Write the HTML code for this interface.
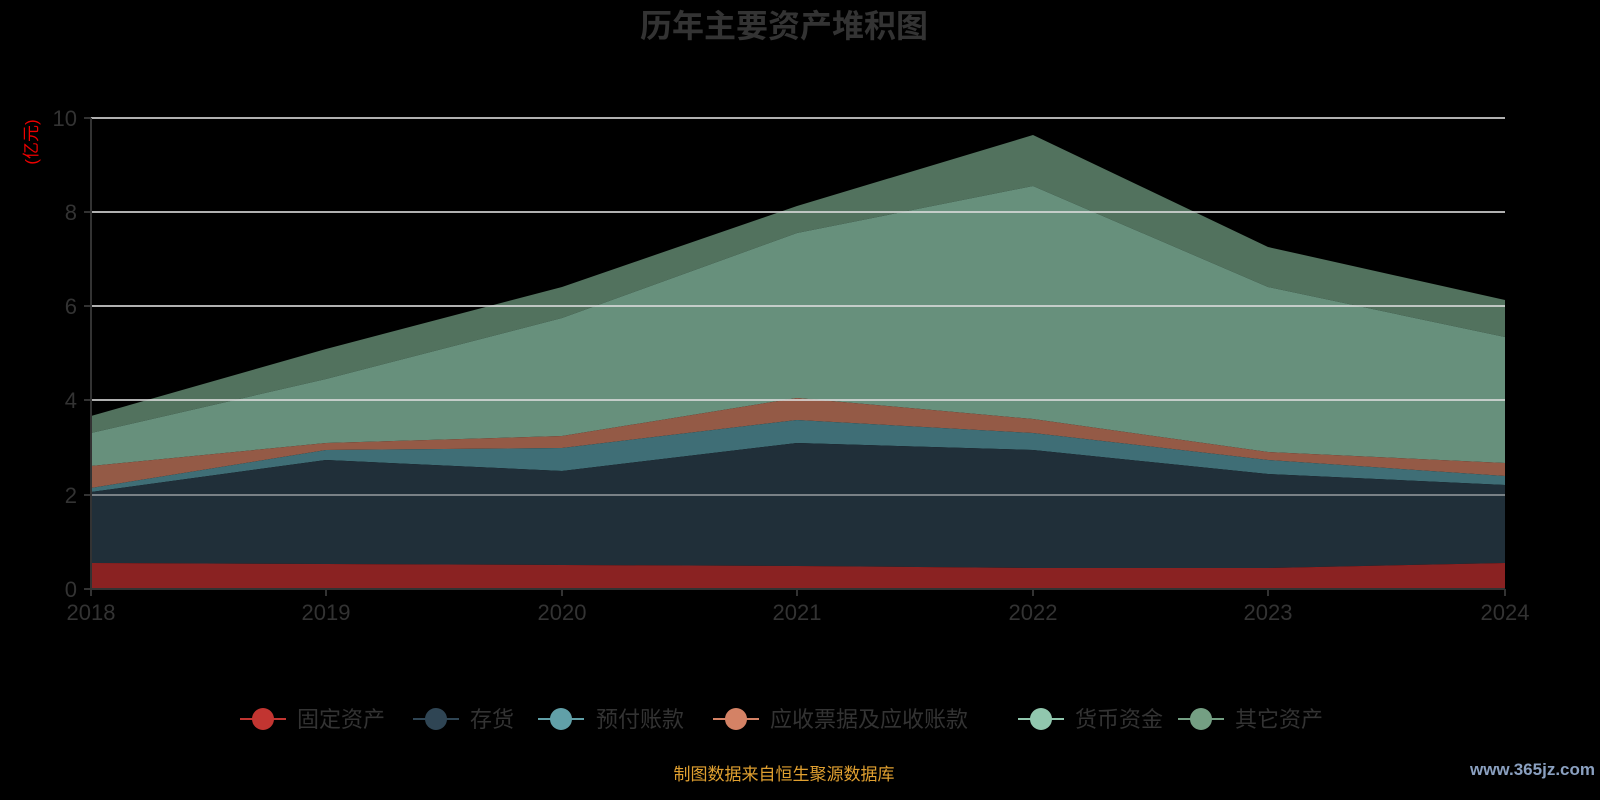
<!DOCTYPE html>
<html><head><meta charset="utf-8"><style>
body{margin:0;background:#000;}
svg{display:block;font-family:"Liberation Sans","Noto Sans CJK SC",sans-serif;}
</style></head><body>
<svg width="1600" height="800" viewBox="0 0 1600 800">
<rect width="1600" height="800" fill="#000"/>
<text x="784" y="37" text-anchor="middle" font-size="32" font-weight="bold" fill="#333">历年主要资产堆积图</text>
<text transform="translate(37,142) rotate(-90)" text-anchor="middle" font-size="17" fill="#e00">(亿元)</text>
<polygon fill="#52725e" points="91,416 326,349 562,287 797,206 1033,135 1268,247 1505,300 1505,337 1268,287 1033,186 797,233 562,318 326,379 91,433"/>
<polygon fill="#67907c" points="91,433 326,379 562,318 797,233 1033,186 1268,287 1505,337 1505,463 1268,452 1033,419 797,398 562,436 326,443 91,466"/>
<polygon fill="#945a46" points="91,466 326,443 562,436 797,398 1033,419 1268,452 1505,463 1505,476 1268,460 1033,433 797,420 562,448 326,450 91,488"/>
<polygon fill="#3f6e76" points="91,488 326,450 562,448 797,420 1033,433 1268,460 1505,476 1505,485 1268,474 1033,450 797,443 562,471 326,460 91,492"/>
<polygon fill="#202f39" points="91,492 326,460 562,471 797,443 1033,450 1268,474 1505,485 1505,563 1268,568 1033,568 797,566 562,565 326,564 91,563"/>
<polygon fill="#8a2222" points="91,563 326,564 562,565 797,566 1033,568 1268,568 1505,563 1505,589 91,589"/>
<g stroke="#ddd" stroke-width="2" opacity="0.8">
<line x1="91" y1="118" x2="1505" y2="118"/><line x1="91" y1="212" x2="1505" y2="212"/>
<line x1="91" y1="306" x2="1505" y2="306"/><line x1="91" y1="400" x2="1505" y2="400"/>
<line x1="91" y1="495" x2="1505" y2="495" opacity="0.6"/>
</g>
<g stroke="#333" stroke-width="2">
<line x1="91" y1="118" x2="91" y2="589"/><line x1="84" y1="589" x2="1505" y2="589"/>
<line x1="84" y1="118" x2="91" y2="118"/><line x1="84" y1="212" x2="91" y2="212"/><line x1="84" y1="306" x2="91" y2="306"/><line x1="84" y1="400" x2="91" y2="400"/><line x1="84" y1="495" x2="91" y2="495"/>
<line x1="91" y1="589" x2="91" y2="596"/><line x1="326" y1="589" x2="326" y2="596"/><line x1="562" y1="589" x2="562" y2="596"/><line x1="797" y1="589" x2="797" y2="596"/><line x1="1033" y1="589" x2="1033" y2="596"/><line x1="1268" y1="589" x2="1268" y2="596"/><line x1="1505" y1="589" x2="1505" y2="596"/>
</g>
<g font-size="22" fill="#333" text-anchor="end">
<text x="77" y="126">10</text><text x="77" y="220">8</text><text x="77" y="314">6</text><text x="77" y="408">4</text><text x="77" y="503">2</text><text x="77" y="597">0</text>
</g>
<g font-size="22" fill="#333" text-anchor="middle">
<text x="91" y="620">2018</text><text x="326" y="620">2019</text><text x="562" y="620">2020</text><text x="797" y="620">2021</text><text x="1033" y="620">2022</text><text x="1268" y="620">2023</text><text x="1505" y="620">2024</text>
</g>
<g font-size="22" fill="#333">
<line x1="240" y1="719" x2="286" y2="719" stroke="#c23531" stroke-width="2"/><circle cx="263" cy="719" r="11" fill="#c23531"/><text x="297" y="727">固定资产</text>
<line x1="413" y1="719" x2="459" y2="719" stroke="#2f4554" stroke-width="2"/><circle cx="436" cy="719" r="11" fill="#2f4554"/><text x="470" y="727">存货</text>
<line x1="538" y1="719" x2="584" y2="719" stroke="#61a0a8" stroke-width="2"/><circle cx="561" cy="719" r="11" fill="#61a0a8"/><text x="596" y="727">预付账款</text>
<line x1="713" y1="719" x2="759" y2="719" stroke="#d48265" stroke-width="2"/><circle cx="736" cy="719" r="11" fill="#d48265"/><text x="770" y="727">应收票据及应收账款</text>
<line x1="1018" y1="719" x2="1064" y2="719" stroke="#91c7ae" stroke-width="2"/><circle cx="1041" cy="719" r="11" fill="#91c7ae"/><text x="1075" y="727">货币资金</text>
<line x1="1178" y1="719" x2="1224" y2="719" stroke="#749f83" stroke-width="2"/><circle cx="1201" cy="719" r="11" fill="#749f83"/><text x="1235" y="727">其它资产</text>
</g>
<text x="784" y="780" text-anchor="middle" font-size="17" fill="#e0a030">制图数据来自恒生聚源数据库</text>
<text x="1595" y="775" text-anchor="end" font-size="17" font-weight="bold" fill="#8aa0c0">www.365jz.com</text>
</svg>
</body></html>
